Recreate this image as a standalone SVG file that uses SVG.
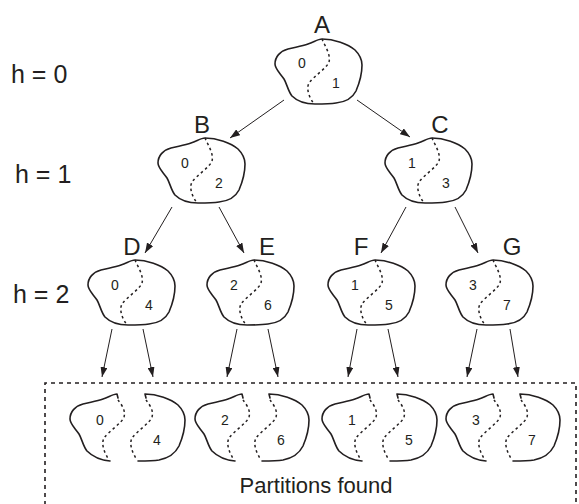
<svg xmlns="http://www.w3.org/2000/svg" xmlns:xlink="http://www.w3.org/1999/xlink" width="579" height="504" viewBox="0 0 579 504">
<style>
.outline{fill:none;stroke:#231f20;stroke-width:1.6;stroke-linejoin:round;stroke-linecap:round}
.cut{fill:none;stroke:#231f20;stroke-width:1.5;stroke-dasharray:2.5 3}
.conn{stroke:#231f20;stroke-width:1;fill:none;marker-end:url(#ah)}
.box{fill:none;stroke:#231f20;stroke-width:1.6;stroke-dasharray:4 4}
text{font-family:"Liberation Sans",Arial,sans-serif;fill:#231f20;text-anchor:middle}
.big{font-size:24px}
.lvl{font-size:25px;text-anchor:start}
.num{font-size:14px}
.cap{font-size:22px}
</style>
<defs>
<marker id="ah" markerWidth="10" markerHeight="7" refX="10" refY="3.5" orient="auto" markerUnits="userSpaceOnUse">
<path d="M0,0 L10,3.5 L0,7 Z" fill="#231f20"/>
</marker>
<path id="blob" class="outline" d="M0,0 C12,0 26,5 33,11 C38,16 40,21 40,26 C40,34 37,45 34,52 C31,58 24,63 14,64 C8,65 0,65 -7,65 C-18,65 -26,61 -30,57 C-34,52 -35,45 -38,40 C-42,34 -47,30 -47,25 C-47,18 -42,12 -34,10 C-26,8 -20,7 -14,5 C-8,3 -4,0 0,0 Z"/>
<path id="cutline" class="cut" d="M0,0 C3,7 9,16 7,23 C5,29 -8,37 -13,44 C-16,50 -13,58 -8,65"/>
<path id="lefthalf" class="outline" d="M1,4 L0,0 C-4,0 -8,3 -14,5 C-20,7 -26,8 -34,10 C-42,12 -47,18 -47,25 C-47,30 -42,34 -38,40 C-35,45 -34,52 -30,57 C-26,61 -18,66 -7,67"/>
<path id="righthalf" class="outline" d="M1,4 L0,0 C12,0 26,5 33,11 C38,16 40,21 40,26 C40,34 37,45 34,52 C31,58 24,64 14,66 C8,67 0,67 -7,67"/>
<path id="cutpiece" class="cut" d="M1,6 C4,10 9,16 7,23 C5,29 -8,37 -13,44 C-16,50 -13,58 -8,66"/>
</defs>

<g id="level-labels">
<text class="lvl" x="11" y="83">h = 0</text>
<text class="lvl" x="15" y="183">h = 1</text>
<text class="lvl" x="13" y="303">h = 2</text>
</g>

<g id="connectors">
<line class="conn" x1="284" y1="100" x2="230" y2="138"/>
<line class="conn" x1="357" y1="100" x2="410" y2="137"/>
<line class="conn" x1="172" y1="207" x2="145" y2="253"/>
<line class="conn" x1="219" y1="207" x2="244" y2="253"/>
<line class="conn" x1="406" y1="207" x2="381" y2="253"/>
<line class="conn" x1="455" y1="207" x2="478" y2="253"/>
<line class="conn" x1="112" y1="329" x2="102" y2="377"/>
<line class="conn" x1="143" y1="329" x2="153" y2="377"/>
<line class="conn" x1="237" y1="329" x2="227" y2="377"/>
<line class="conn" x1="268" y1="329" x2="278" y2="377"/>
<line class="conn" x1="357" y1="329" x2="348" y2="377"/>
<line class="conn" x1="388" y1="329" x2="398" y2="377"/>
<line class="conn" x1="477" y1="329" x2="467" y2="377"/>
<line class="conn" x1="510" y1="329" x2="518" y2="377"/>
</g>

<g id="node-A">
<text class="big" x="322" y="33">A</text>
<use xlink:href="#blob" href="#blob" transform="translate(322,39)"/>
<use xlink:href="#cutline" href="#cutline" transform="translate(322,39)"/>
<text class="num" x="302" y="68">0</text>
<text class="num" x="336" y="88">1</text>
</g>

<g id="node-B">
<text class="big" x="202" y="133">B</text>
<use xlink:href="#blob" href="#blob" transform="translate(205,138)"/>
<use xlink:href="#cutline" href="#cutline" transform="translate(205,138)"/>
<text class="num" x="185" y="168">0</text>
<text class="num" x="219" y="188">2</text>
</g>

<g id="node-C">
<text class="big" x="440" y="133">C</text>
<use xlink:href="#blob" href="#blob" transform="translate(432,138)"/>
<use xlink:href="#cutline" href="#cutline" transform="translate(432,138)"/>
<text class="num" x="412" y="168">1</text>
<text class="num" x="446" y="188">3</text>
</g>

<g id="node-D">
<text class="big" x="132" y="255">D</text>
<use xlink:href="#blob" href="#blob" transform="translate(135,260)"/>
<use xlink:href="#cutline" href="#cutline" transform="translate(135,260)"/>
<text class="num" x="115" y="290">0</text>
<text class="num" x="149" y="310">4</text>
</g>

<g id="node-E">
<text class="big" x="267" y="255">E</text>
<use xlink:href="#blob" href="#blob" transform="translate(254,260)"/>
<use xlink:href="#cutline" href="#cutline" transform="translate(254,260)"/>
<text class="num" x="234" y="290">2</text>
<text class="num" x="268" y="310">6</text>
</g>

<g id="node-F">
<text class="big" x="361" y="255">F</text>
<use xlink:href="#blob" href="#blob" transform="translate(375,260)"/>
<use xlink:href="#cutline" href="#cutline" transform="translate(375,260)"/>
<text class="num" x="355" y="290">1</text>
<text class="num" x="389" y="310">5</text>
</g>

<g id="node-G">
<text class="big" x="512" y="255">G</text>
<use xlink:href="#blob" href="#blob" transform="translate(493,260)"/>
<use xlink:href="#cutline" href="#cutline" transform="translate(493,260)"/>
<text class="num" x="473" y="290">3</text>
<text class="num" x="507" y="310">7</text>
</g>

<g id="partitions-box">
<path class="box" d="M45,505 L45,383 L576,383 L576,505"/>
<text class="cap" x="316" y="493">Partitions found</text>
</g>

<g id="part-0-4">
<use xlink:href="#lefthalf" href="#lefthalf" transform="translate(117,394)"/>
<use xlink:href="#cutpiece" href="#cutpiece" transform="translate(117,394)"/>
<use xlink:href="#righthalf" href="#righthalf" transform="translate(145,394)"/>
<use xlink:href="#cutpiece" href="#cutpiece" transform="translate(145,394)"/>
<text class="num" x="100" y="425">0</text>
<text class="num" x="157" y="445">4</text>
</g>

<g id="part-2-6">
<use xlink:href="#lefthalf" href="#lefthalf" transform="translate(242,394)"/>
<use xlink:href="#cutpiece" href="#cutpiece" transform="translate(242,394)"/>
<use xlink:href="#righthalf" href="#righthalf" transform="translate(269,394)"/>
<use xlink:href="#cutpiece" href="#cutpiece" transform="translate(269,394)"/>
<text class="num" x="225" y="425">2</text>
<text class="num" x="281" y="445">6</text>
</g>

<g id="part-1-5">
<use xlink:href="#lefthalf" href="#lefthalf" transform="translate(369,394)"/>
<use xlink:href="#cutpiece" href="#cutpiece" transform="translate(369,394)"/>
<use xlink:href="#righthalf" href="#righthalf" transform="translate(397,394)"/>
<use xlink:href="#cutpiece" href="#cutpiece" transform="translate(397,394)"/>
<text class="num" x="352" y="425">1</text>
<text class="num" x="409" y="445">5</text>
</g>

<g id="part-3-7">
<use xlink:href="#lefthalf" href="#lefthalf" transform="translate(493,394)"/>
<use xlink:href="#cutpiece" href="#cutpiece" transform="translate(493,394)"/>
<use xlink:href="#righthalf" href="#righthalf" transform="translate(520,394)"/>
<use xlink:href="#cutpiece" href="#cutpiece" transform="translate(520,394)"/>
<text class="num" x="476" y="425">3</text>
<text class="num" x="532" y="445">7</text>
</g>
</svg>
